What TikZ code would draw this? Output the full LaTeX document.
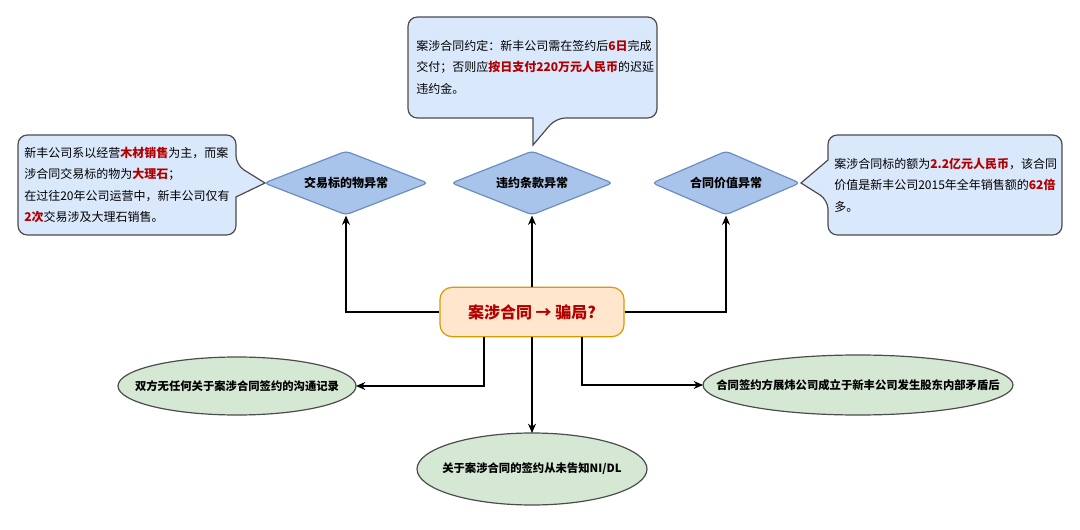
\documentclass[tikz,border=0pt]{standalone}
\usepackage{fontspec}
\setmainfont{Noto Sans CJK SC}
\usetikzlibrary{shapes.geometric,arrows.meta}
\definecolor{cfill}{HTML}{DAE8FC}
\definecolor{dfill}{HTML}{A9C4EB}
\definecolor{dline}{HTML}{6C8EBF}
\definecolor{efill}{HTML}{D5E8D4}
\definecolor{pfill}{HTML}{FFE6CC}
\definecolor{pline}{HTML}{D79B00}
\definecolor{hred}{HTML}{B20000}
\newcommand{\hl}[1]{\textcolor{hred}{\textbf{#1}}}
\tikzset{
 callout/.style={draw=black!70,fill=cfill,line width=0.9pt,rounded corners=7pt},
 ctext/.style={font=\fontsize{9}{16}\selectfont,align=left,anchor=north west,inner sep=0pt},
 diam/.style={diamond,draw=dline,fill=dfill,line width=0.9pt,aspect=2.5,inner sep=1pt,font=\fontsize{9}{10}\selectfont\bfseries,rounded corners=3pt},
 ell/.style={draw=black!70,fill=efill,line width=0.9pt},
 etext/.style={font=\fontsize{8.5}{10}\selectfont\bfseries,inner sep=0pt},
 arr/.style={-{Stealth[length=7pt,width=6pt]},line width=0.9pt},
}
\begin{document}
\begin{tikzpicture}[x=0.75pt,y=-0.75pt]
\useasboundingbox (0,0) rectangle (1080,530);
% callouts
\draw[callout] (18,135) -- (236,135) -- (236,165) [sharp corners]-- (265,183) -- (236,197) [rounded corners=7pt]-- (236,235) -- (18,235) -- cycle;
\node[ctext] (lt) at (24,147) {新丰公司系以经营\hl{木材销售}为主，而案\\涉合同交易标的物为\hl{大理石}；\\在过往20年公司运营中，新丰公司仅有\\\hl{2次}交易涉及大理石销售。};
\draw[callout] (408,17) -- (657,17) -- (657,118) -- (556,118) [sharp corners]-- (533,145) -- (533,118) [rounded corners=7pt]-- (408,118) -- cycle;
\node[ctext] (tt) at (416,40) {案涉合同约定：新丰公司需在签约后\hl{6日}完成\\交付；否则应\hl{按日支付220万元人民币}的迟延\\违约金。};
\draw[callout] (828,135) -- (1062,135) -- (1062,235) -- (828,235) -- (828,200) [sharp corners]-- (801,183) -- (828,160) [rounded corners=7pt]-- cycle;
\node[ctext] (rt) at (834,158) {案涉合同标的额为\hl{2.2亿元人民币}，该合同\\价值是新丰公司2015年全年销售额的\hl{62倍}\\多。};
% diamonds
\node[diam,minimum width=123pt,minimum height=48pt] (d1) at (346,183) {交易标的物异常};
\node[diam,minimum width=121pt,minimum height=48pt] (d2) at (532,183) {违约条款异常};
\node[diam,minimum width=111pt,minimum height=48pt] (d3) at (726,183) {合同价值异常};
% center
\node[draw=pline,fill=pfill,line width=0.9pt,rounded corners=9pt,minimum width=138pt,minimum height=37pt,font=\fontsize{12}{14}\selectfont\bfseries,text=hred] (c) at (532,312) {案涉合同 → 骗局?};
% ellipses
\draw[ell] (237,386) ellipse [x radius=119,y radius=29];
\node[etext] (e1) at (237,386) {双方无任何关于案涉合同签约的沟通记录};
\coordinate (e1r) at (356,386);
\draw[ell] (858,385) ellipse [x radius=155,y radius=30];
\node[etext] (e2) at (858,385) {合同签约方展炜公司成立于新丰公司发生股东内部矛盾后};
\coordinate (e2l) at (703,385);
\draw[ell] (532,469) ellipse [x radius=115,y radius=36];
\node[etext] (e3) at (532,469) {关于案涉合同的签约从未告知NI/DL};
\coordinate (e3t) at (532,433);
% arrows
\draw[arr] (c.west) -| (d1.south);
\draw[arr] (c.north) -- (d2.south);
\draw[arr] (c.east) -| (d3.south);
\draw[arr] (c.south -| 484,0) |- (e1r);
\draw[arr] (c.south) -- (e3t);
\draw[arr] (c.south -| 582,0) |- (e2l);
\end{tikzpicture}
\end{document}
